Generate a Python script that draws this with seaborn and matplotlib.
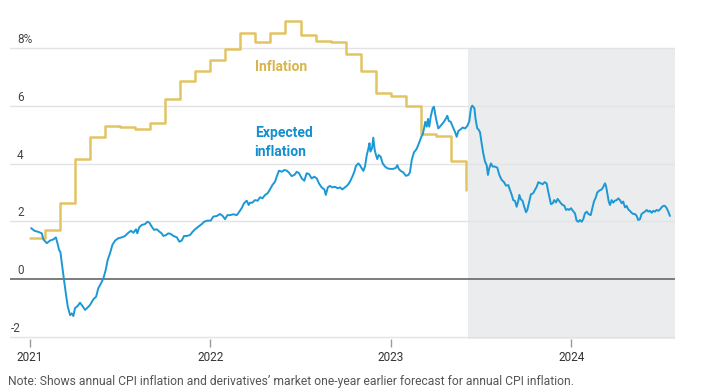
import numpy as np
import pandas as pd
import matplotlib
matplotlib.use("Agg")
import matplotlib.pyplot as plt
import matplotlib.transforms as mtransforms
import seaborn as sns

# ---------------- data ----------------
# Annual CPI inflation (%), monthly from Jan 2021 to Jun 2023
inflation_months = pd.period_range("2021-01", "2023-06", freq="M")
inflation_values = [1.42, 1.70, 2.65, 4.15, 4.92, 5.30, 5.27, 5.20, 5.40, 6.24,
                    6.86, 7.20, 7.60, 7.97, 8.53, 8.22, 8.51, 8.94, 8.45, 8.24,
                    8.20, 7.78, 7.22, 6.46, 6.34, 6.00, 5.02, 4.96, 4.09, 3.09]

# Expected inflation (market forecast one year earlier), decimal years
expected_t = [
    2021.008, 2021.026, 2021.048, 2021.067, 2021.076, 2021.095, 2021.113, 2021.131,
    2021.145, 2021.153, 2021.163, 2021.170, 2021.178, 2021.189, 2021.200, 2021.211,
    2021.224, 2021.233, 2021.242, 2021.251, 2021.266, 2021.279, 2021.292, 2021.307,
    2021.322, 2021.334, 2021.353, 2021.368, 2021.380, 2021.395, 2021.408, 2021.421,
    2021.432, 2021.445, 2021.458, 2021.473, 2021.491, 2021.510, 2021.528, 2021.543,
    2021.561, 2021.574, 2021.589, 2021.596, 2021.607, 2021.621, 2021.639, 2021.652,
    2021.663, 2021.676, 2021.689, 2021.704, 2021.718, 2021.731, 2021.740, 2021.755,
    2021.768, 2021.781, 2021.796, 2021.815, 2021.829, 2021.842, 2021.855, 2021.870,
    2021.888, 2021.903, 2021.916, 2021.934, 2021.953, 2021.966, 2021.984, 2022.003,
    2022.017, 2022.036, 2022.054, 2022.069, 2022.082, 2022.095, 2022.110, 2022.128,
    2022.147, 2022.161, 2022.174, 2022.187, 2022.202, 2022.213, 2022.220, 2022.233,
    2022.248, 2022.263, 2022.276, 2022.289, 2022.304, 2022.318, 2022.331, 2022.344,
    2022.359, 2022.368, 2022.381, 2022.396, 2022.410, 2022.424, 2022.436, 2022.451,
    2022.466, 2022.479, 2022.492, 2022.507, 2022.521, 2022.534, 2022.547, 2022.562,
    2022.576, 2022.590, 2022.602, 2022.617, 2022.632, 2022.640, 2022.651, 2022.663,
    2022.676, 2022.691, 2022.706, 2022.719, 2022.731, 2022.746, 2022.761, 2022.774,
    2022.787, 2022.798, 2022.807, 2022.820, 2022.829, 2022.839, 2022.848, 2022.857,
    2022.867, 2022.876, 2022.882, 2022.887, 2022.896, 2022.903, 2022.911, 2022.918,
    2022.925, 2022.933, 2022.944, 2022.955, 2022.968, 2022.981, 2022.996, 2023.014,
    2023.029, 2023.036, 2023.044, 2023.055, 2023.069, 2023.084, 2023.097, 2023.106,
    2023.116, 2023.128, 2023.143, 2023.158, 2023.169, 2023.177, 2023.184, 2023.191,
    2023.199, 2023.206, 2023.213, 2023.221, 2023.232, 2023.239, 2023.250, 2023.263,
    2023.272, 2023.282, 2023.294, 2023.306, 2023.313, 2023.321, 2023.332, 2023.343,
    2023.355, 2023.365, 2023.374, 2023.383, 2023.398, 2023.412, 2023.424, 2023.435,
    2023.444, 2023.451, 2023.463, 2023.469, 2023.472, 2023.479, 2023.487, 2023.494,
    2023.503, 2023.512, 2023.522, 2023.531, 2023.538, 2023.545, 2023.555, 2023.564,
    2023.577, 2023.590, 2023.601, 2023.614, 2023.627, 2023.638, 2023.651, 2023.660,
    2023.670, 2023.678, 2023.688, 2023.697, 2023.706, 2023.712, 2023.719, 2023.730,
    2023.739, 2023.749, 2023.756, 2023.767, 2023.776, 2023.789, 2023.798, 2023.808,
    2023.817, 2023.830, 2023.841, 2023.852, 2023.863, 2023.870, 2023.878, 2023.887,
    2023.897, 2023.905, 2023.915, 2023.924, 2023.933, 2023.942, 2023.952, 2023.961,
    2023.970, 2023.980, 2023.988, 2023.998, 2024.007, 2024.020, 2024.029, 2024.038,
    2024.048, 2024.057, 2024.066, 2024.075, 2024.085, 2024.094, 2024.107, 2024.116,
    2024.125, 2024.136, 2024.143, 2024.155, 2024.168, 2024.177, 2024.186, 2024.192,
    2024.199, 2024.207, 2024.214, 2024.223, 2024.232, 2024.241, 2024.251, 2024.260,
    2024.269, 2024.279, 2024.287, 2024.297, 2024.306, 2024.315, 2024.324, 2024.334,
    2024.343, 2024.352, 2024.362, 2024.370, 2024.380, 2024.389, 2024.398, 2024.407,
    2024.417, 2024.426, 2024.435, 2024.445, 2024.454, 2024.463, 2024.472, 2024.482,
    2024.491, 2024.500, 2024.509, 2024.518, 2024.528, 2024.537, 2024.546,
]
expected_values = [
    1.77, 1.68, 1.64, 1.59, 1.38, 1.25, 1.34, 1.38,
    1.45, 1.27, 1.01, 0.95, 0.55, 0.03, -0.48, -0.95,
    -1.24, -1.18, -1.27, -1.00, -0.92, -0.81, -0.92, -1.06,
    -0.97, -0.89, -0.69, -0.60, -0.31, -0.14, 0.03, 0.32,
    0.67, 0.90, 1.19, 1.34, 1.42, 1.45, 1.50, 1.59,
    1.68, 1.61, 1.73, 1.59, 1.80, 1.88, 1.91, 1.99,
    1.96, 1.82, 1.71, 1.73, 1.65, 1.59, 1.50, 1.53,
    1.59, 1.57, 1.50, 1.45, 1.30, 1.34, 1.50, 1.50,
    1.53, 1.65, 1.73, 1.82, 1.91, 1.99, 2.03, 2.03,
    2.17, 2.19, 2.26, 2.19, 2.08, 2.22, 2.22, 2.25,
    2.22, 2.34, 2.46, 2.63, 2.72, 2.57, 2.65, 2.65,
    2.74, 2.72, 2.84, 2.80, 2.92, 2.98, 3.11, 3.26,
    3.38, 3.55, 3.76, 3.72, 3.78, 3.76, 3.69, 3.57,
    3.61, 3.72, 3.67, 3.49, 3.41, 3.67, 3.64, 3.49,
    3.55, 3.49, 3.32, 3.18, 3.11, 2.92, 3.18, 3.23,
    3.18, 3.20, 3.15, 3.18, 3.11, 3.18, 3.26, 3.38,
    3.55, 3.72, 3.92, 4.01, 3.95, 3.84, 3.75, 3.90,
    4.30, 4.53, 4.71, 4.42, 4.53, 4.90, 4.47, 4.30,
    4.16, 4.30, 4.24, 4.01, 3.90, 3.84, 3.82, 3.82,
    3.86, 3.95, 3.82, 3.75, 3.70, 3.58, 3.61, 3.70,
    4.13, 4.39, 4.51, 4.74, 4.93, 5.02, 5.22, 5.45,
    5.28, 5.55, 5.28, 5.63, 5.92, 5.97, 5.57, 5.22,
    5.28, 5.36, 5.45, 5.57, 5.66, 5.48, 5.45, 5.28,
    5.11, 4.93, 5.13, 5.17, 5.25, 5.22, 5.31, 5.48,
    5.92, 6.01, 5.92, 5.57, 5.45, 5.22, 5.17, 5.09,
    4.71, 4.36, 4.07, 3.95, 3.61, 3.84, 4.01, 3.90,
    3.90, 3.86, 3.61, 3.44, 3.36, 3.24, 3.26, 3.09,
    2.92, 2.74, 2.71, 2.51, 2.71, 2.92, 2.78, 2.71,
    2.51, 2.32, 2.40, 2.69, 2.94, 2.98, 3.09, 3.20,
    3.36, 3.32, 3.29, 3.36, 3.32, 3.09, 2.86, 2.60,
    2.63, 2.74, 2.66, 2.78, 2.71, 2.63, 2.57, 2.55,
    2.40, 2.43, 2.40, 2.46, 2.38, 2.28, 2.03, 1.99,
    2.05, 1.99, 2.08, 2.28, 2.34, 2.26, 2.22, 2.46,
    2.69, 2.84, 3.00, 3.07, 3.11, 3.20, 3.32, 3.23,
    2.98, 2.69, 2.57, 2.74, 2.65, 2.72, 2.74, 2.80,
    2.74, 2.63, 2.69, 2.49, 2.54, 2.42, 2.37, 2.30,
    2.26, 2.26, 2.19, 2.05, 2.08, 2.26, 2.30, 2.34,
    2.40, 2.34, 2.37, 2.30, 2.37, 2.34, 2.40, 2.37,
    2.42, 2.49, 2.54, 2.54, 2.46, 2.34, 2.19,
]

# Shaded forecast-period window (decimal years)
shade_start = 2023.428
shade_end = 2024.574

year_ticks = [2021, 2022, 2023, 2024]
year_labels = ["2021", "2022", "2023", "2024"]
y_ticks = [-2, 0, 2, 4, 6, 8]
y_labels = ["-2", "0", "2", "4", "6", "8%"]

note_text = ("Note: Shows annual CPI inflation and derivatives\u2019 market one-year "
             "earlier forecast for annual CPI inflation.")

# ---------------- style ----------------
sns.set_theme(style="white")
FONT = ["Roboto", "DejaVu Sans"]
plt.rcParams["font.family"] = FONT

YELLOW = "#e3c462"
YELLOW_TXT = "#d8b44a"
BLUE = "#1b98d5"
BLUE_TXT = "#128fd0"

infl_df = pd.DataFrame({
    "t": [p.year + (p.month - 1) / 12 for p in inflation_months],
    "v": inflation_values,
})
exp_df = pd.DataFrame({"t": expected_t, "v": expected_values})

W, H = 705, 388
fig = plt.figure(figsize=(W / 100, H / 100), dpi=100)
ax_left, ax_right, ax_top, ax_bottom = 10, 675, 16.3, 339.4
ax = fig.add_axes([ax_left / W, (H - ax_bottom) / H,
                   (ax_right - ax_left) / W, (ax_bottom - ax_top) / H])

ymin, ymax = -2.08, 9.1
xmin, xmax = 2020.891, shade_end
ax.set_xlim(xmin, xmax)
ax.set_ylim(ymin, ymax)

# shaded period
ax.fill_between([shade_start, shade_end], ymin, 8, color="#ebecee", lw=0, zorder=0)

# gridlines
for yv in y_ticks:
    if yv == 0:
        ax.axhline(yv, color="#727272", lw=1.3, zorder=1)
    else:
        ax.axhline(yv, color="#e3e3e3", lw=1.0, zorder=1)

# series
sns.lineplot(data=infl_df, x="t", y="v", ax=ax, color=YELLOW, lw=1.8,
             drawstyle="steps-post", estimator=None, zorder=3)
sns.lineplot(data=exp_df, x="t", y="v", ax=ax, color=BLUE, lw=1.4,
             estimator=None, zorder=4)

for s in ax.spines.values():
    s.set_visible(False)
ax.set_xlabel("")
ax.set_ylabel("")
ax.set_yticks([])
ax.set_xticks(year_ticks)
ax.set_xticklabels(year_labels, fontsize=8.5, color="#333333", family=FONT)
ax.tick_params(axis="x", length=6, width=1, color="#9a9a9a", direction="out",
               pad=2, bottom=True)

# y labels above gridlines
for yv, lab in zip(y_ticks, y_labels):
    xoff = 1 if lab.startswith("-") else 7
    tr = mtransforms.offset_copy(ax.get_yaxis_transform(), fig=fig,
                                 x=xoff, y=2, units="dots")
    ax.text(0, yv, lab, transform=tr, ha="left", va="bottom",
            fontsize=8.5, color="#444444", family=FONT)

# series labels
ax.text(2022.246, 7.35, "Inflation", color=YELLOW_TXT, fontsize=10,
        fontweight="bold", ha="left", va="center", family=FONT)
ax.text(2022.246, 5.06, "Expected", color=BLUE_TXT, fontsize=10,
        fontweight="bold", ha="left", va="center", family=FONT)
ax.text(2022.246, 4.40, "inflation", color=BLUE_TXT, fontsize=10,
        fontweight="bold", ha="left", va="center", family=FONT)

fig.text(8 / W, (H - 381) / H, note_text, ha="left", va="center",
         fontsize=8.7, color="#555555", family=FONT)

fig.savefig("out.png", dpi=100)
